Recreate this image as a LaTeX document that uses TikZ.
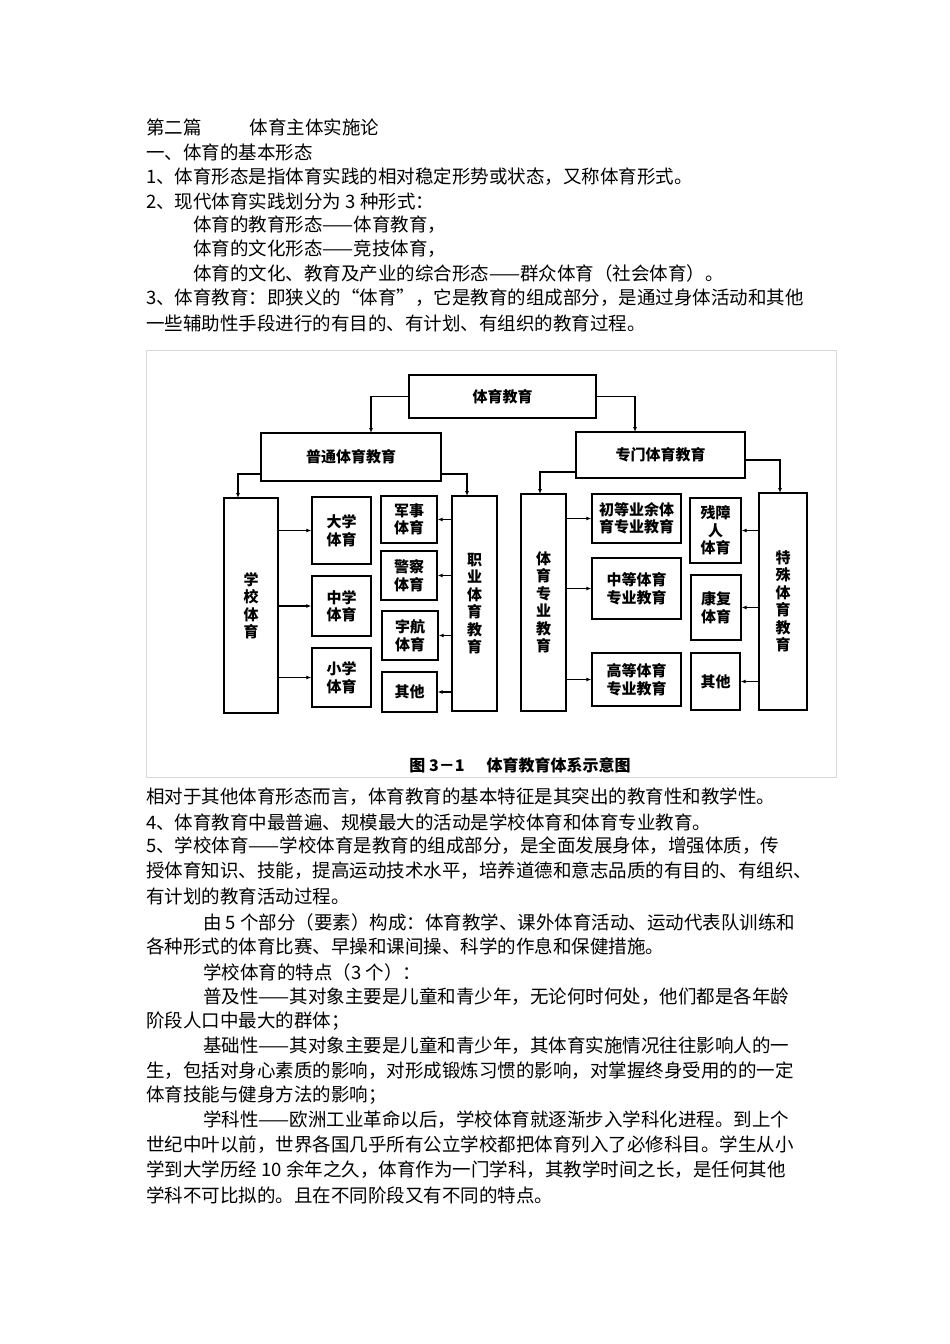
\documentclass[tikz,border=0pt]{standalone}
\usepackage{fontspec}
\setmainfont{Noto Sans CJK SC}
\usetikzlibrary{arrows.meta}
\begin{document}
\begin{tikzpicture}[x=1pt,y=-1pt,
  txt/.style={anchor=west,inner sep=0pt,font=\fontsize{18.5}{21}\selectfont},
  bx/.style={draw,line width=1.3pt,inner sep=0pt,align=center,font=\fontsize{15}{17.5}\selectfont\bfseries},
  arr/.style={line width=1.1pt,-{Latex[length=5pt,width=4pt]}}]
\useasboundingbox (0,0) rectangle (950,1344);
\fill[white] (0,0) rectangle (950,1344);
\newcommand\bxx[6]{\node[bx,minimum width={(#4-#2)*1pt},minimum height={(#5-#3)*1pt}] (#1) at ({(#2+#4)/2},{(#3+#5)/2}) {#6};}
% text above
\node[txt] (t1) at (146,127) {第二篇\hspace{48pt}体育主体实施论};
\node[txt] (t2) at (146,152) {一、体育的基本形态};
\node[txt] (t3) at (146,177) {1、体育形态是指体育实践的相对稳定形势或状态，又称体育形式。};
\node[txt] (t4) at (146,201) {2、现代体育实践划分为 3 种形式：};
\node[txt] (t5) at (193,225) {体育的教育形态——体育教育，};
\node[txt] (t6) at (193,249) {体育的文化形态——竞技体育，};
\node[txt] (t7) at (193,273) {体育的文化、教育及产业的综合形态——群众体育（社会体育）。};
\node[txt] (t8) at (146,298) {3、体育教育：即狭义的“体育”，它是教育的组成部分，是通过身体活动和其他};
\node[txt] (t9) at (146,323) {一些辅助性手段进行的有目的、有计划、有组织的教育过程。};
% frame
\draw[black!15,line width=0.8pt] (146,350) rectangle (836,777);
% boxes
\bxx{top}{409}{375}{596}{418}{体育教育}
\bxx{pt}{261}{433}{441}{481}{普通体育教育}
\bxx{zm}{576}{432}{745}{478}{专门体育教育}
\bxx{xx}{224}{498}{278}{713}{学\\校\\体\\育}
\bxx{zy}{452}{496}{497}{711}{职\\业\\体\\育\\教\\育}
\bxx{dx}{312}{497}{371}{564}{大学\\体育}
\bxx{zx}{312}{576}{371}{636}{中学\\体育}
\bxx{xxx}{312}{648}{371}{707}{小学\\体育}
\bxx{js}{381}{496}{437}{543}{军事\\体育}
\bxx{jc}{381}{551}{437}{600}{警察\\体育}
\bxx{yh}{382}{611}{438}{660}{宇航\\体育}
\bxx{qt1}{382}{672}{437}{712}{其他}
\bxx{zyjy}{521}{494}{566}{711}{体\\育\\专\\业\\教\\育}
\bxx{ts}{759}{493}{807}{710}{特\\殊\\体\\育\\教\\育}
\bxx{cd}{592}{494}{681}{543}{初等业余体\\育专业教育}
\bxx{zd}{592}{558}{681}{619}{中等体育\\专业教育}
\bxx{gd}{592}{653}{681}{706}{高等体育\\专业教育}
\bxx{cz}{690}{498}{741}{563}{残障\\人\\体育}
\bxx{kf}{691}{575}{741}{640}{康复\\体育}
\bxx{qt2}{691}{653}{740}{710}{其他}
% connectors
\coordinate (c1) at (371,433);
\coordinate (c2) at (635,432);
\coordinate (c3) at (238,498);
\coordinate (c4) at (467,496);
\coordinate (c5) at (540,494);
\coordinate (c6) at (780,493);
\draw[arr] (top.west) -| (c1);
\draw[arr] (top.east) -| (c2);
\draw[arr] (pt.west |- 0,474) -| (c3);
\draw[arr] (pt.east |- 0,474) -| (c4);
\draw[arr] (zm.west |- 0,472) -| (c5);
\draw[arr] (zm.east |- 0,460) -| (c6);
\foreach \t in {dx,zx,xxx} \draw[arr] (xx.east |- \t.west) -- (\t.west);
\foreach \t in {js,jc,yh,qt1} \draw[arr] (zy.west |- \t.east) -- (\t.east);
\foreach \t in {cd,zd,gd} \draw[arr] (zyjy.east |- \t.west) -- (\t.west);
\foreach \t in {cz,kf,qt2} \draw[arr] (ts.west |- \t.east) -- (\t.east);
\node[inner sep=0pt,font=\fontsize{16}{18}\selectfont\bfseries] (cap) at (520,765) {图 3－1\hspace{22pt}体育教育体系示意图};
% text below
\node[txt] (b1) at (146,797) {相对于其他体育形态而言，体育教育的基本特征是其突出的教育性和教学性。};
\node[txt] (b2) at (146,822) {4、体育教育中最普遍、规模最大的活动是学校体育和体育专业教育。};
\node[txt] (b3) at (146,846) {5、学校体育——学校体育是教育的组成部分，是全面发展身体，增强体质，传};
\node[txt] (b4) at (146,871) {授体育知识、技能，提高运动技术水平，培养道德和意志品质的有目的、有组织、};
\node[txt] (b5) at (146,896) {有计划的教育活动过程。};
\node[txt] (b6) at (203,922) {由 5 个部分（要素）构成：体育教学、课外体育活动、运动代表队训练和};
\node[txt] (b7) at (146,946) {各种形式的体育比赛、早操和课间操、科学的作息和保健措施。};
\node[txt] (b8) at (203,972) {学校体育的特点（3 个）：};
\node[txt] (b9) at (203,997) {普及性——其对象主要是儿童和青少年，无论何时何处，他们都是各年龄};
\node[txt] (b10) at (146,1021) {阶段人口中最大的群体；};
\node[txt] (b11) at (203,1046) {基础性——其对象主要是儿童和青少年，其体育实施情况往往影响人的一};
\node[txt] (b12) at (146,1071) {生，包括对身心素质的影响，对形成锻炼习惯的影响，对掌握终身受用的的一定};
\node[txt] (b13) at (146,1095) {体育技能与健身方法的影响；};
\node[txt] (b14) at (203,1120) {学科性——欧洲工业革命以后，学校体育就逐渐步入学科化进程。到上个};
\node[txt] (b15) at (146,1145) {世纪中叶以前，世界各国几乎所有公立学校都把体育列入了必修科目。学生从小};
\node[txt] (b16) at (146,1170) {学到大学历经 10 余年之久，体育作为一门学科，其教学时间之长，是任何其他};
\node[txt] (b17) at (146,1195) {学科不可比拟的。且在不同阶段又有不同的特点。};
\end{tikzpicture}
\end{document}
